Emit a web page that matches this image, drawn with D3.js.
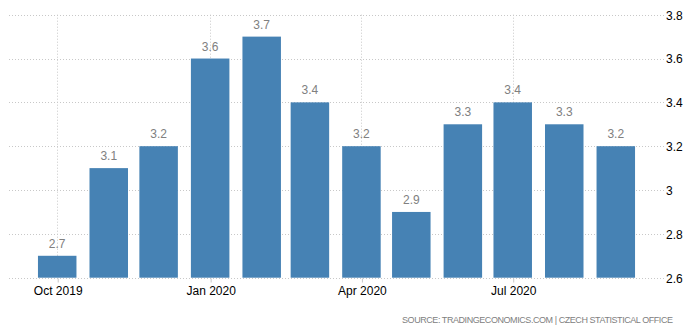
<!DOCTYPE html>
<html>
<head>
<meta charset="utf-8">
<script src="https://cdn.jsdelivr.net/npm/d3@7"></script>
<style>
  html, body { margin: 0; padding: 0; background: #fff; }
  svg { display: block; font-family: "Liberation Sans", Arial, sans-serif; }
</style>
</head>
<body>
<svg id="chart" width="691" height="333"></svg>
<script>
const months = ["2019-10-01","2019-11-01","2019-12-01","2020-01-01","2020-02-01","2020-03-01",
                "2020-04-01","2020-05-01","2020-06-01","2020-07-01","2020-08-01","2020-09-01"];
const values = [2.7, 3.1, 3.2, 3.6, 3.7, 3.4, 3.2, 2.9, 3.3, 3.4, 3.3, 3.2];
const xTicks = ["2019-10-01","2020-01-01","2020-04-01","2020-07-01"];
const yTicks = [2.6, 2.8, 3, 3.2, 3.4, 3.6, 3.8];
const sourceText = "SOURCE: TRADINGECONOMICS.COM | CZECH STATISTICAL OFFICE";

const parse = d3.utcParse("%Y-%m-%d");
const data = months.map((m, i) => ({ date: parse(m), value: values[i] }));

const svg = d3.select("#chart");
const x = d3.scaleUtc().domain([parse("2019-09-02"), parse("2020-09-30")]).range([9, 664]);
const y = d3.scaleLinear().domain([2.6, 3.8]).range([277.7, 14.7]);
const barW = 38.5;

// horizontal grid
svg.append("g").selectAll("line").data(yTicks).join("line")
  .attr("x1", x.range()[0]).attr("x2", x.range()[1])
  .attr("y1", d => Math.round(y(d)) + 0.5).attr("y2", d => Math.round(y(d)) + 0.5)
  .attr("stroke", "#c8c8c8").attr("stroke-dasharray", "1,2");

// vertical grid
svg.append("g").selectAll("line").data(xTicks.map(parse)).join("line")
  .attr("x1", d => Math.round(x(d)) + 0.5).attr("x2", d => Math.round(x(d)) + 0.5)
  .attr("y1", y(3.8)).attr("y2", y(2.6))
  .attr("stroke", "#c8c8c8").attr("stroke-dasharray", "1,2");

// bars
svg.append("g").selectAll("rect").data(data).join("rect")
  .attr("x", d => x(d.date) - barW / 2)
  .attr("width", barW)
  .attr("y", d => y(d.value))
  .attr("height", d => y(2.6) - y(d.value))
  .attr("fill", "#4682b4");

// value labels
svg.append("g").selectAll("text").data(data).join("text")
  .attr("x", d => x(d.date))
  .attr("y", d => y(d.value) - 8)
  .attr("text-anchor", "middle")
  .attr("font-size", 12)
  .attr("fill", "#808080")
  .text(d => d3.format(".1f")(d.value));

// x axis
const xAxis = d3.axisBottom(x)
  .tickValues(xTicks.map(parse))
  .tickFormat(d3.utcFormat("%b %Y"))
  .tickSize(4).tickPadding(4);
const gx = svg.append("g").attr("transform", `translate(0.5,${Math.round(y(2.6)) + 0.5})`).call(xAxis);
gx.select(".domain").remove();
gx.selectAll(".tick line").attr("stroke", "#c8c8c8");
gx.selectAll(".tick text").attr("font-size", 12).attr("fill", "#000").attr("font-family", "Liberation Sans, Arial, sans-serif");

// y axis (right)
const yAxis = d3.axisRight(y).tickValues(yTicks).tickFormat(d => d3.format("")(d)).tickSize(0).tickPadding(2);
const gy = svg.append("g").attr("transform", `translate(664,0.5)`).call(yAxis);
gy.select(".domain").remove();
gy.selectAll(".tick text").attr("font-size", 12).attr("fill", "#000").attr("font-family", "Liberation Sans, Arial, sans-serif");

// source
svg.append("text")
  .attr("x", 673).attr("y", 323)
  .attr("text-anchor", "end")
  .attr("font-size", 9)
  .attr("fill", "#808080")
  .attr("textLength", 271)
  .attr("lengthAdjust", "spacing")
  .text(sourceText);
</script>
</body>
</html>
